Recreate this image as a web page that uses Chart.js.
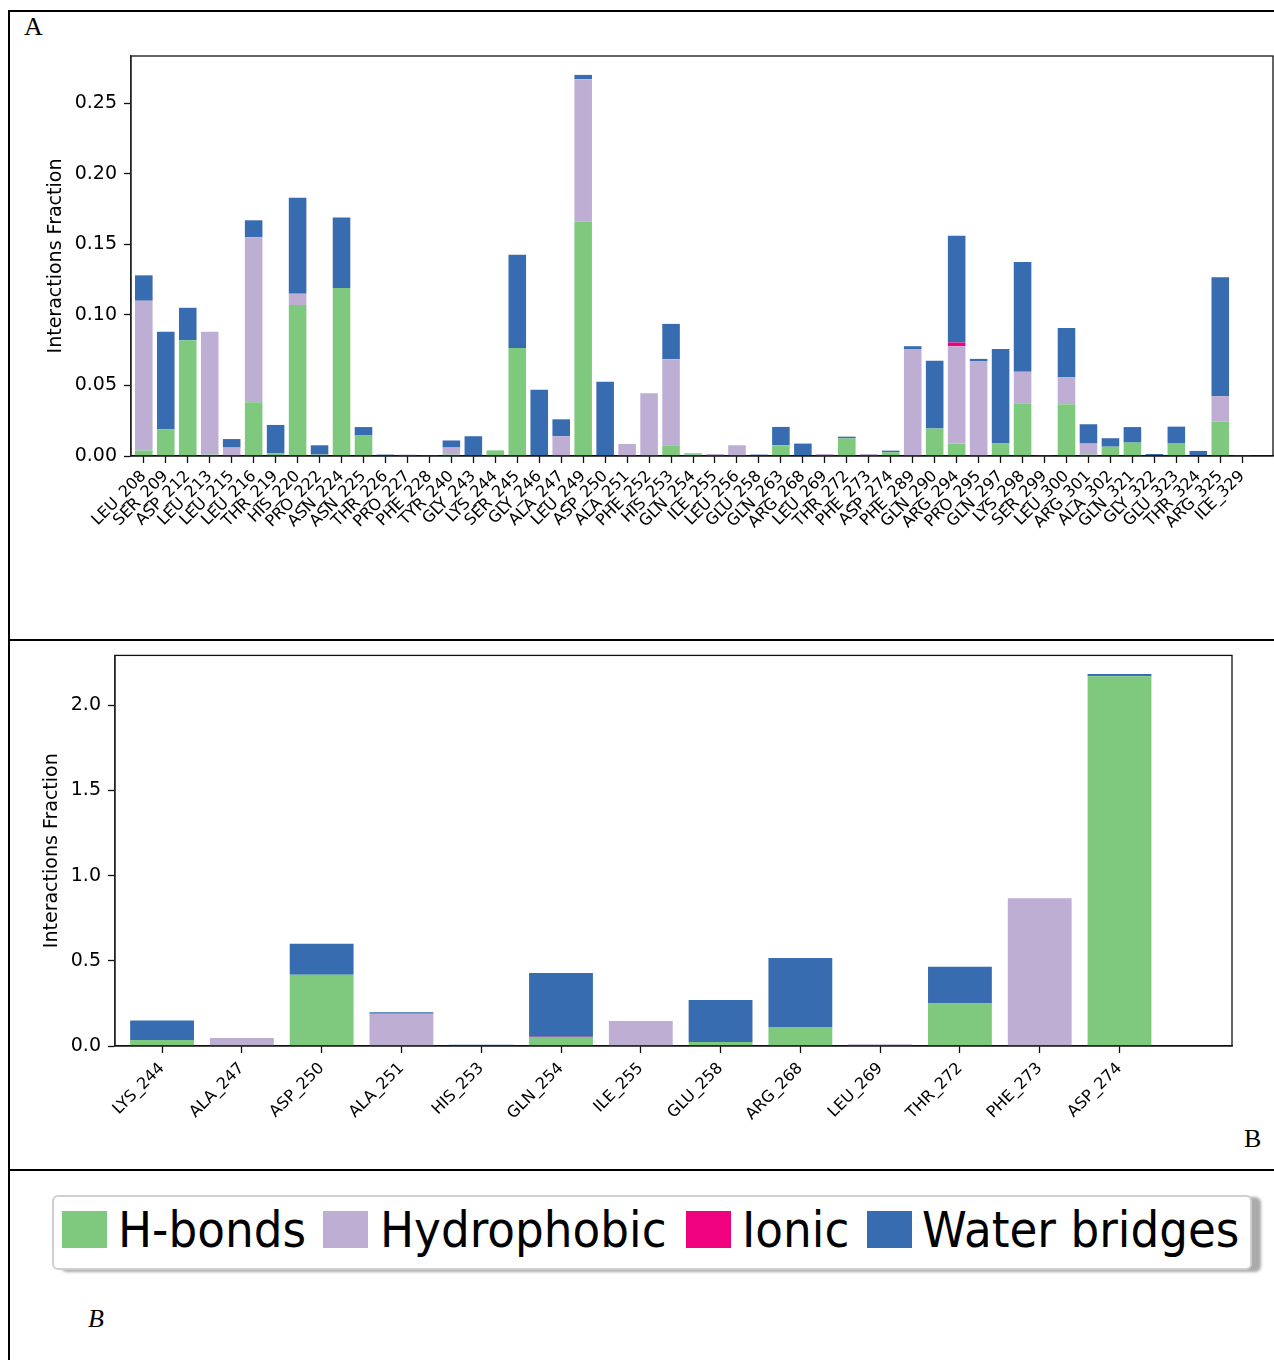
<!DOCTYPE html>
<html>
<head>
<meta charset="utf-8">
<script src="https://cdn.jsdelivr.net/npm/chart.js@4.4.1/dist/chart.umd.min.js"></script>
<style>
  body { margin: 0; background: #fff; width: 1274px; height: 1360px; position: relative; overflow: hidden; }
  canvas { position: absolute; }
  .line { position: absolute; background: #000; }
  .tag { position: absolute; font-family: "Liberation Serif", serif; font-size: 26px; line-height: 1; color: #000; }
  .legend {
    position: absolute; left: 52px; top: 1195px; width: 1196px; height: 71px;
    border: 2px solid #cfcfcf; border-radius: 6px; background: #fff;
    box-shadow: 9px 2px 3px #aaa;
  }
  .sw { position: absolute; top: 1211px; width: 45px; height: 37px; }
  .lt {
    position: absolute; top: 1206px; font-family: "DejaVu Sans", sans-serif; font-size: 49px;
    line-height: 1; white-space: nowrap; transform: scaleX(0.925); transform-origin: left top; color: #000;
  }
</style>
</head>
<body>
<div class="line" style="left:9px;top:10px;width:1265px;height:2px;"></div>
<div class="line" style="left:8px;top:10px;width:2px;height:1350px;"></div>
<div class="line" style="left:9px;top:639px;width:1265px;height:2px;"></div>
<div class="line" style="left:9px;top:1169px;width:1265px;height:2px;"></div>

<div class="tag" style="left:24px;top:14px;">A</div>
<div class="tag" style="left:1244px;top:1126px;">B</div>
<div class="tag" style="left:88px;top:1306px;font-style:italic;">B</div>

<canvas id="chartA" width="1264" height="580" style="left:10px;top:21px;"></canvas>
<canvas id="chartB" width="1250" height="528" style="left:10px;top:637px;"></canvas>

<div class="legend"></div>
<div class="sw" style="left:62px;background:#7fc97f;"></div>
<div class="lt" style="left:118px;">H-bonds</div>
<div class="sw" style="left:323px;background:#beaed4;"></div>
<div class="lt" style="left:380px;">Hydrophobic</div>
<div class="sw" style="left:686px;background:#f0027f;"></div>
<div class="lt" style="left:742px;">Ionic</div>
<div class="sw" style="left:867px;background:#386cb0;"></div>
<div class="lt" style="left:922px;">Water bridges</div>

<script>
// panel A
const labelsA = ['LEU_208', 'SER_209', 'ASP_212', 'LEU_213', 'LEU_215', 'LEU_216', 'THR_219', 'HIS_220', 'PRO_222',
    'ASN_224', 'ASN_225', 'THR_226', 'PRO_227', 'PHE_228', 'TYR_240', 'GLY_243', 'LYS_244', 'SER_245', 'GLY_246',
    'ALA_247', 'LEU_249', 'ASP_250', 'ALA_251', 'PHE_252', 'HIS_253', 'GLN_254', 'ILE_255', 'LEU_256', 'GLU_258',
    'GLN_263', 'ARG_268', 'LEU_269', 'THR_272', 'PHE_273', 'ASP_274', 'PHE_289', 'GLN_290', 'ARG_294', 'PRO_295',
    'GLN_297', 'LYS_298', 'SER_299', 'LEU_300', 'ARG_301', 'ALA_302', 'GLN_321', 'GLY_322', 'GLU_323', 'THR_324',
    'ARG_325', 'ILE_329'];
const hbondsA = [0.004, 0.019, 0.082, 0.001, 0, 0.038, 0.002, 0.107, 0.001, 0.119, 0.0145, 0, 0, 0, 0.001, 0, 0.004,
    0.0765, 0, 0, 0.166, 0, 0, 0, 0.0076, 0.0012, 0, 0, 0, 0.0076, 0, 0, 0.0125, 0, 0.0026, 0, 0.0194, 0.0088, 0,
    0.0088, 0.0374, 0, 0.0367, 0.001, 0.0066, 0.0095, 0, 0.0088, 0, 0.0244, 0];
const hydroA = [0.106, 0, 0, 0.087, 0.006, 0.117, 0, 0.008, 0, 0, 0, 0, 0.001, 0.0006, 0.005, 0, 0, 0, 0, 0.014,
    0.101, 0, 0.0085, 0.0445, 0.061, 0, 0.0014, 0.0076, 0, 0, 0, 0.0014, 0, 0.0014, 0, 0.0758, 0, 0.069, 0.067, 0,
    0.0223, 0, 0.019, 0.0078, 0, 0, 0, 0, 0, 0.018, 0];
const ionicA = [0, 0, 0, 0, 0, 0, 0, 0, 0, 0, 0, 0, 0, 0, 0, 0, 0, 0, 0, 0, 0, 0, 0, 0, 0, 0, 0, 0, 0, 0, 0, 0, 0,
    0, 0, 0, 0, 0.0026, 0, 0, 0, 0, 0, 0, 0, 0, 0, 0, 0, 0, 0];
const waterA = [0.018, 0.069, 0.023, 0, 0.006, 0.012, 0.020, 0.068, 0.0066, 0.050, 0.006, 0.001, 0, 0, 0.005, 0.014,
    0, 0.066, 0.047, 0.012, 0.003, 0.0526, 0, 0, 0.025, 0.0005, 0, 0, 0.001, 0.013, 0.0088, 0, 0.0012, 0, 0.0012,
    0.002, 0.048, 0.0757, 0.0018, 0.067, 0.0778, 0.0007, 0.035, 0.0137, 0.006, 0.011, 0.0014, 0.012, 0.0036, 0.0842,
    0.0007];
const ticksA = [0, 0.05, 0.10, 0.15, 0.20, 0.25];

// panel B
const labelsB = ['LYS_244', 'ALA_247', 'ASP_250', 'ALA_251', 'HIS_253', 'GLN_254', 'ILE_255', 'GLU_258', 'ARG_268',
    'LEU_269', 'THR_272', 'PHE_273', 'ASP_274'];
const hbondsB = [0.035, 0, 0.418, 0, 0, 0.05, 0, 0.023, 0.111, 0, 0.25, 0, 2.17];
const hydroB = [0, 0.047, 0, 0.189, 0, 0, 0.147, 0, 0, 0.01, 0, 0.868, 0];
const ionicB = [0, 0, 0, 0, 0, 0.004, 0, 0, 0, 0, 0, 0, 0];
const waterB = [0.114, 0, 0.182, 0.009, 0.007, 0.374, 0, 0.247, 0.405, 0, 0.215, 0, 0.014];
const ticksB = [0, 0.5, 1.0, 1.5, 2.0];

const seriesNames = ['H-bonds', 'Hydrophobic', 'Ionic', 'Water bridges'];
const seriesColors = ['#7fc97f', '#beaed4', '#f0027f', '#386cb0'];

Chart.defaults.font.family = '"DejaVu Sans", sans-serif';
Chart.defaults.color = '#000';

const framePlugin = {
    id: 'frame',
    afterDraw(chart) {
        const { ctx, chartArea: a } = chart;
        ctx.save();
        ctx.strokeStyle = '#111';
        ctx.lineWidth = 1.3;
        ctx.strokeRect(a.left, a.top, a.right - a.left, a.bottom - a.top);
        ctx.restore();
    }
};

function makeChart(id, labels, series, cfg) {
    const datasets = series.map((vals, k) => ({
        label: seriesNames[k],
        data: vals.map((v, i) => ({ x: i, y: v })),
        backgroundColor: seriesColors[k],
        borderWidth: 0,
        barPercentage: 0.8,
        categoryPercentage: 1.0
    }));

    return new Chart(document.getElementById(id), {
        type: 'bar',
        data: { datasets },
        plugins: [framePlugin],
        options: {
            responsive: false,
            animation: false,
            devicePixelRatio: 1,
            layout: { padding: cfg.padding },
            plugins: { legend: { display: false }, tooltip: { enabled: false } },
            scales: {
                x: {
                    type: 'linear',
                    stacked: true,
                    offset: false,
                    min: cfg.xMin,
                    max: cfg.xMax,
                    afterBuildTicks: (scale) => { scale.ticks = labels.map((_, i) => ({ value: i })); },
                    afterFit: (scale) => { scale.height = cfg.xHeight; },
                    grid: { offset: false, drawOnChartArea: false, tickLength: 7, color: '#111', tickWidth: 1.3 },
                    border: { color: '#111', width: 1.3 },
                    ticks: {
                        autoSkip: false,
                        maxRotation: 45,
                        minRotation: 45,
                        padding: cfg.xPad,
                        font: { size: cfg.xFont },
                        callback: (v) => labels[v]
                    }
                },
                y: {
                    stacked: true,
                    min: 0,
                    max: cfg.yMax,
                    afterBuildTicks: (scale) => { scale.ticks = cfg.yTicks.map(v => ({ value: v })); },
                    afterFit: (scale) => { scale.width = cfg.yWidth; },
                    grid: { drawOnChartArea: false, tickLength: 7, color: '#111', tickWidth: 1.3 },
                    border: { color: '#444', width: 1.3 },
                    ticks: {
                        padding: 7,
                        font: { size: 19 },
                        callback: (v) => Number(v).toFixed(cfg.digits)
                    },
                    title: {
                        display: true,
                        text: 'Interactions Fraction',
                        font: { size: 19 },
                        padding: { top: cfg.titlePad, bottom: 0 }
                    }
                }
            }
        }
    });
}

makeChart('chartA', labelsA, [hbondsA, hydroA, ionicA, waterA], {
    padding: { top: 35, right: 1, left: 0, bottom: 0 },
    xMin: -0.583, xMax: 51.4, xHeight: 145, xPad: 4, xFont: 16,
    yMax: 0.2834, yTicks: ticksA, yWidth: 121, digits: 2, titlePad: 35
});

makeChart('chartB', labelsB, [hbondsB, hydroB, ionicB, waterB], {
    padding: { top: 18, right: 28, left: 0, bottom: 0 },
    xMin: -0.59, xMax: 13.41, xHeight: 119, xPad: 6, xFont: 16,
    yMax: 2.293, yTicks: ticksB, yWidth: 105, digits: 1, titlePad: 30.6
});
</script>
</body>
</html>
